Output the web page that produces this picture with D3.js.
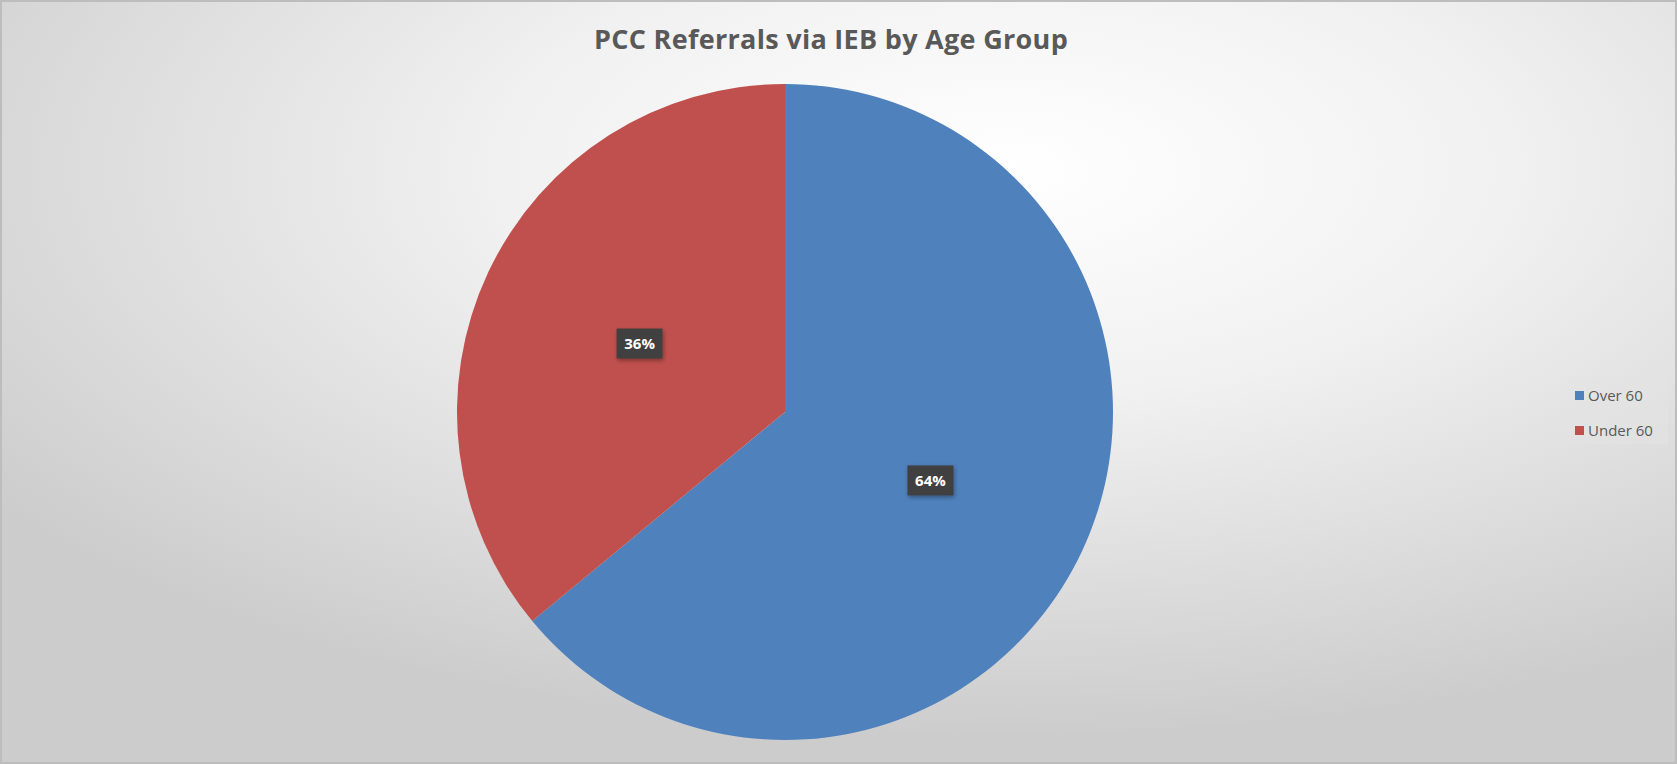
<!DOCTYPE html>
<html>
<head>
<meta charset="utf-8">
<script src="https://cdn.jsdelivr.net/npm/d3@7"></script>
<style>
  html, body { margin: 0; padding: 0; background: #fff; }
  svg { display: block; }
</style>
</head>
<body>
<svg id="chart"></svg>
<script>
var width = 1677;
var height = 764;

var categories = ["Over 60", "Under 60"];
var values = [64, 36];
var colors = ["#4F81BD", "#C0504D"];
var title = "PCC Referrals via IEB by Age Group";

var svg = d3.select("#chart").attr("width", width).attr("height", height);
var defs = svg.append("defs");

// background: light centre fading to grey edges
var bg = defs.append("radialGradient").attr("id", "bg")
  .attr("cx", "60%").attr("cy", "22%").attr("r", "75%");
bg.append("stop").attr("offset", "0%").attr("stop-color", "#ffffff");
bg.append("stop").attr("offset", "40%").attr("stop-color", "#f1f1f1");
bg.append("stop").attr("offset", "100%").attr("stop-color", "#cccccc");

svg.append("rect").attr("x", 1).attr("y", 1)
  .attr("width", width - 2).attr("height", height - 2)
  .attr("fill", "url(#bg)").attr("stroke", "#bdbdbd").attr("stroke-width", 2);

svg.append("text")
  .attr("x", 831).attr("y", 49)
  .attr("text-anchor", "middle")
  .attr("font-family", "Open Sans, sans-serif")
  .attr("font-weight", "bold")
  .attr("font-size", 27)
  .attr("letter-spacing", 0.3)
  .attr("fill", "#595959")
  .text(title);

var cx = 785, cy = 412, r = 328;
var pie = d3.pie().sort(null)(values);
var arc = d3.arc().innerRadius(0).outerRadius(r);
var labelArc = d3.arc().innerRadius(r * 0.49).outerRadius(r * 0.49);

var g = svg.append("g").attr("transform", "translate(" + cx + "," + cy + ")");

g.selectAll("path").data(pie).enter().append("path")
  .attr("d", arc)
  .attr("fill", function(d, i) { return colors[i]; });

var shadow = defs.append("filter").attr("id", "sh")
  .attr("x", "-30%").attr("y", "-30%").attr("width", "160%").attr("height", "160%");
shadow.append("feDropShadow").attr("dx", 1).attr("dy", 2)
  .attr("stdDeviation", 2).attr("flood-color", "#000").attr("flood-opacity", 0.35);

var labels = g.selectAll("g.lbl").data(pie).enter().append("g")
  .attr("class", "lbl")
  .attr("transform", function(d) {
    var c = labelArc.centroid(d);
    return "translate(" + c[0] + "," + c[1] + ")";
  });
labels.append("rect")
  .attr("x", -23).attr("y", -15).attr("width", 46).attr("height", 30)
  .attr("fill", "#404040")
  .attr("filter", "url(#sh)");
labels.append("text")
  .attr("text-anchor", "middle")
  .attr("dy", "0.35em")
  .attr("font-family", "Open Sans, sans-serif")
  .attr("font-weight", "bold")
  .attr("font-size", 15)
  .attr("fill", "#ffffff")
  .text(function(d) { return Math.round(d.value / d3.sum(values) * 100) + "%"; });

// legend
var legend = svg.append("g").attr("transform", "translate(1572,382)");
legend.append("rect").attr("x", -4).attr("y", -4).attr("width", 100).attr("height", 66)
  .attr("fill", "#e4e4e4").attr("opacity", 0.5);
var items = legend.selectAll("g.item").data(categories).enter().append("g")
  .attr("class", "item")
  .attr("transform", function(d, i) { return "translate(0," + (i * 35 + 14) + ")"; });
items.append("rect").attr("x", 3).attr("y", -5).attr("width", 9).attr("height", 9)
  .attr("fill", function(d, i) { return colors[i]; });
items.append("text").attr("x", 16).attr("dy", "0.35em")
  .attr("font-family", "Open Sans, sans-serif")
  .attr("font-size", 15)
  .attr("fill", "#595959")
  .text(function(d) { return d; });
</script>
</body>
</html>
